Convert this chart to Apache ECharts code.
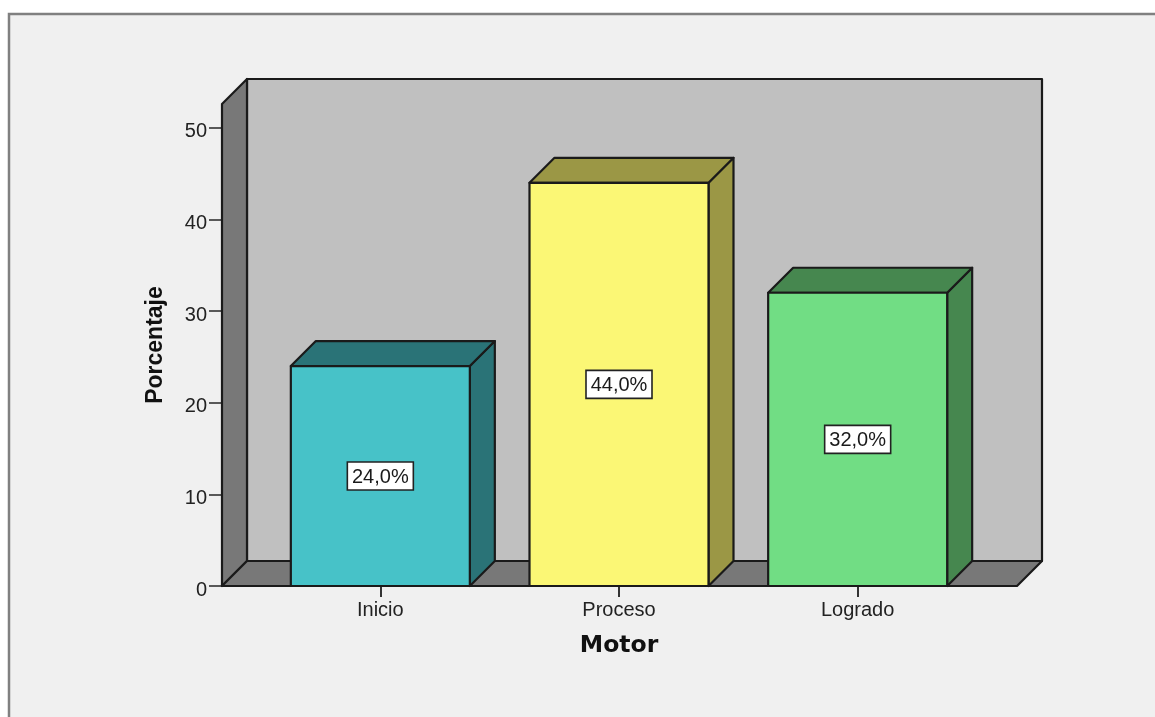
<!DOCTYPE html>
<html>
<head>
<meta charset="utf-8">
<style>html,body{margin:0;padding:0;background:#fff}#c{width:1155px;height:717px}</style>
<script src="https://cdn.jsdelivr.net/npm/echarts@6/dist/echarts.min.js"></script>
</head>
<body>
<div id="c"></div>
<script>
const categories = ['Inicio', 'Proceso', 'Logrado'];
const percentages = [24.0, 44.0, 32.0];
const yTicks = [0, 10, 20, 30, 40, 50];
const xTitle = 'Motor';
const yTitle = 'Porcentaje';

const frontColors = ['#47c2c8', '#fbf775', '#71dd84'];
const sideColors = ['#2a7377', '#9b9745', '#46874f'];
const DEPTH = 25, BAR_WIDTH = 179, WALL_LEFT = 39, WALL_RIGHT = 40;
const LABEL_W = 66, LABEL_H = 28;
const EDGE = '#1a1a1a';
const FONT = '"Liberation Sans", Arial, sans-serif';

const chart = echarts.init(document.getElementById('c'), null, {renderer: 'canvas'});
const edgeStyle = fill => ({fill, stroke: EDGE, lineWidth: 2.2, lineJoin: 'round'});
const poly = (points, fill) => ({type: 'polygon', shape: {points}, style: edgeStyle(fill)});

function renderWalls(params, api) {
  const s = params.coordSys;
  const l = s.x - WALL_LEFT, r = s.x + s.width + WALL_RIGHT, t = s.y, b = s.y + s.height, d = DEPTH;
  return {type: 'group', children: [
    poly([[l + d, t - d], [r + d, t - d], [r + d, b - d], [l + d, b - d]], '#c0c0c0'),
    poly([[l, t], [l + d, t - d], [l + d, b - d], [l, b]], '#787878'),
    poly([[l, b], [l + d, b - d], [r + d, b - d], [r, b]], '#787878')
  ]};
}

function renderBar(params, api) {
  const i = api.value(0), v = api.value(1);
  const top = api.coord([i, v]), base = api.coord([i, 0]);
  const l = top[0] - BAR_WIDTH / 2, r = top[0] + BAR_WIDTH / 2, t = top[1], b = base[1], d = DEPTH;
  return {type: 'group', children: [
    poly([[r, t], [r + d, t - d], [r + d, b - d], [r, b]], sideColors[i]),
    poly([[l, t], [l + d, t - d], [r + d, t - d], [r, t]], sideColors[i]),
    poly([[l, t], [r, t], [r, b], [l, b]], frontColors[i])
  ]};
}

function renderLabel(params, api) {
  const i = api.value(0), v = api.value(1);
  const c = api.coord([i, v / 2]);
  return {type: 'group', children: [
    {type: 'rect', shape: {x: c[0] - LABEL_W / 2, y: c[1] - LABEL_H / 2, width: LABEL_W, height: LABEL_H},
      style: {fill: '#fff', stroke: '#222', lineWidth: 1.6}},
    {type: 'text', x: c[0], y: c[1] + 1.5, style: {
      text: v.toFixed(1).replace('.', ',') + '%',
      font: '20px ' + FONT, fill: '#1a1a1a', align: 'center', verticalAlign: 'middle'
    }}
  ]};
}

const barData = categories.map((c, i) => [i, percentages[i]]);

chart.setOption({
  animation: false,
  backgroundColor: '#fff',
  graphic: [{type: 'rect', z: -10, silent: true,
    shape: {x: 9, y: 14, width: 1300, height: 900},
    style: {fill: '#f0f0f0', stroke: '#808080', lineWidth: 2.5}}],
  grid: {left: 261, top: 104, width: 716, height: 482},
  xAxis: {
    type: 'category', data: categories,
    axisLine: {show: false},
    axisTick: {show: true, alignWithLabel: true, length: 11, lineStyle: {color: '#333', width: 2}},
    axisLabel: {color: '#222', fontFamily: FONT, fontSize: 20, margin: 14, interval: 0},
    name: xTitle, nameLocation: 'middle', nameGap: 48,
    nameTextStyle: {color: '#111', fontFamily: '"DejaVu Sans", sans-serif', fontWeight: 'bold', fontSize: 23.5}
  },
  yAxis: {
    type: 'value', min: 0, max: 52.6, interval: 10, offset: WALL_LEFT,
    axisLine: {show: false},
    splitLine: {show: false},
    axisTick: {show: true, length: 13, customValues: yTicks, lineStyle: {color: '#333', width: 1.6}},
    axisLabel: {color: '#222', fontFamily: FONT, fontSize: 20, margin: 15, verticalAlign: 'top', lineHeight: 8, customValues: yTicks},
    name: yTitle, nameLocation: 'middle', nameGap: 55,
    nameTextStyle: {color: '#111', fontFamily: FONT, fontWeight: 'bold', fontSize: 23}
  },
  series: [
    {type: 'custom', coordinateSystem: 'cartesian2d', data: [[0, 0]], renderItem: renderWalls, z: 1, silent: true},
    {type: 'custom', coordinateSystem: 'cartesian2d', data: barData, renderItem: renderBar, z: 2, silent: true,
      encode: {x: 0, y: 1}},
    {type: 'custom', coordinateSystem: 'cartesian2d', data: barData, renderItem: renderLabel, z: 3, silent: true,
      encode: {x: 0, y: 1}}
  ]
});
</script>
</body>
</html>
